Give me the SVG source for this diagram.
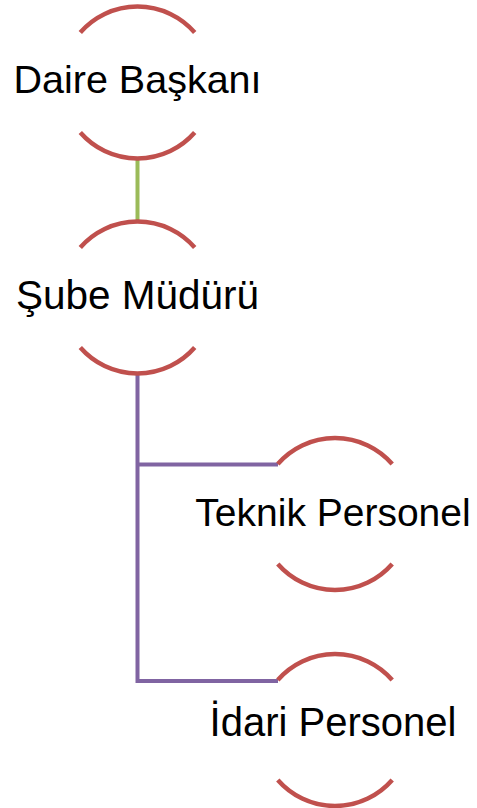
<svg xmlns="http://www.w3.org/2000/svg" width="477" height="808" viewBox="0 0 477 808">
<style>
.arc{fill:none;stroke:#C0504D;stroke-width:4.5}
.lbl{font-family:"Liberation Sans",Arial,sans-serif;font-size:39px;fill:#000;text-anchor:middle}
.c1{fill:none;stroke:#9BBB59;stroke-width:4}
.c2{fill:none;stroke:#8064A2;stroke-width:4;stroke-linejoin:miter}
</style>
<rect width="477" height="808" fill="#fff"/>
<g id="connectors">
<line class="c1" x1="137.5" y1="158" x2="137.5" y2="222"/>
<path class="c2" d="M137.5,373 V681 H278"/>
<path class="c2" d="M137.5,464.5 H278"/>
</g>
<g id="node-daire">
<path class="arc" d="M80.3,32.5 A76,76 0 0 1 194.7,32.5"/>
<path class="arc" d="M80.3,132.5 A76,76 0 0 0 194.7,132.5"/>
<text class="lbl" x="137.5" y="93" style="font-size:39.5px">Daire Başkanı</text>
</g>
<g id="node-sube">
<path class="arc" d="M80.3,247.5 A76,76 0 0 1 194.7,247.5"/>
<path class="arc" d="M80.3,347.5 A76,76 0 0 0 194.7,347.5"/>
<text class="lbl" x="137.5" y="309" style="font-size:40.5px">Şube Müdürü</text>
</g>
<g id="node-teknik">
<path class="arc" d="M277.8,464 A76,76 0 0 1 392.2,464"/>
<path class="arc" d="M277.8,564 A76,76 0 0 0 392.2,564"/>
<text class="lbl" x="333" y="526">Teknik Personel</text>
</g>
<g id="node-idari">
<path class="arc" d="M277.8,680 A76,76 0 0 1 392.2,680"/>
<path class="arc" d="M277.8,780 A76,76 0 0 0 392.2,780"/>
<text class="lbl" x="333" y="736" style="font-size:40px">İdari Personel</text>
</g>
</svg>
